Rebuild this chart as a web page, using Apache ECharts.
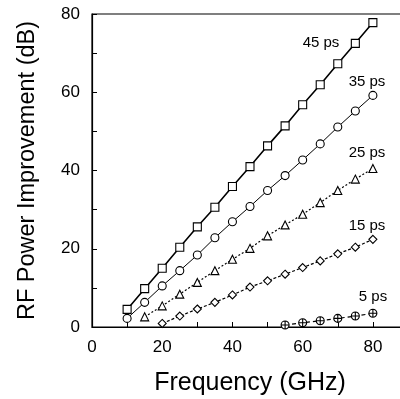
<!DOCTYPE html>
<html><head><meta charset="utf-8">
<script src="https://cdn.jsdelivr.net/npm/echarts@6/dist/echarts.min.js"></script>
<style>html,body{margin:0;padding:0;background:#fff}#c{width:400px;height:399px}</style>
</head><body><div id="c"></div>
<script>
var freq = [10,15,20,25,30,35,40,45,50,55,60,65,70,75,80];
var ps45 = [4.5,9.8,15.0,20.4,25.6,30.6,35.9,41.0,46.3,51.4,56.8,61.9,67.3,72.5,77.8];
var ps35 = [2.2,6.3,10.5,14.4,18.4,22.8,26.9,30.8,34.9,38.7,42.7,46.8,51.1,55.2,59.2];
var freq25 = [15,20,25,30,35,40,45,50,55,60,65,70,75,80];
var ps25 = [2.6,5.4,8.4,11.4,14.4,17.3,20.1,23.3,26.1,28.8,31.8,34.9,37.8,40.5];
var freq15 = [20,25,30,35,40,45,50,55,60,65,70,75,80];
var ps15 = [0.9,2.8,4.6,6.3,8.2,10.2,11.8,13.5,15.2,16.9,18.7,20.4,22.4];
var freq5 = [55,60,65,70,75,80];
var ps5 = [0.5,1.1,1.6,2.2,2.8,3.5];
var xTicks = [0,20,40,60,80];
var yTicks = [0,20,40,60,80];
var seriesNames = ['45 ps','35 ps','25 ps','15 ps','5 ps'];

function pairs(xs, ys){ return xs.map(function(x,i){return [x, ys[i]];}); }
var font = '"Liberation Sans", Arial, sans-serif';
var circlePlus = 'path://M50,2A48,48 0 1,1 49.99,2Z M50,2L50,98 M2,50L98,50';

function mk(name, data, symbol, size, lineType, width){
  return {name:name, type:'line', data:data, symbol:symbol, symbolSize:size,
    showAllSymbol:true, z:3,
    lineStyle:{color:'#000', width:width, type:lineType},
    itemStyle:{color:'#fff', borderColor:'#000', borderWidth:1.1}};
}

var chart = echarts.init(document.getElementById('c'), null, {renderer:'canvas'});
chart.setOption({
  animation:false,
  backgroundColor:'#fff',
  grid:{left:92, top:14, bottom:72, right:-8, containLabel:false, outerBoundsMode:'none',
    show:true, borderColor:'#000', borderWidth:1.2},
  xAxis:{type:'value', min:0, max:90, interval:20,
    name:'Frequency (GHz)', nameLocation:'middle', nameGap:44,
    nameTextStyle:{fontFamily:font, fontSize:25, color:'#000'},
    axisLine:{show:true, lineStyle:{color:'#000', width:1.2}},
    axisTick:{show:true, inside:true, length:5, lineStyle:{color:'#000'}},
    minorTick:{show:true, splitNumber:2, length:5, lineStyle:{color:'#000'}},
    axisLabel:{fontFamily:font, fontSize:17, color:'#000', margin:12, showMaxLabel:false,
      formatter:function(v){return xTicks.indexOf(v)>=0 ? String(v) : '';}},
    splitLine:{show:false}},
  yAxis:{type:'value', min:0, max:80, interval:20,
    name:'RF Power Improvement (dB)', nameLocation:'middle', nameGap:52,
    nameTextStyle:{fontFamily:font, fontSize:23.5, color:'#000'},
    axisLine:{show:true, lineStyle:{color:'#000', width:1.2}},
    axisTick:{show:true, inside:true, length:5, lineStyle:{color:'#000'}},
    minorTick:{show:true, splitNumber:2, length:5, lineStyle:{color:'#000'}},
    axisLabel:{fontFamily:font, fontSize:17, color:'#000', margin:12,
      formatter:function(v){return yTicks.indexOf(v)>=0 ? String(v) : '';}},
    splitLine:{show:false}},
  series:[
    mk(seriesNames[0], pairs(freq, ps45), 'rect', 8, 'solid', 1.6),
    mk(seriesNames[1], pairs(freq, ps35), 'circle', 8, 'solid', 1),
    mk(seriesNames[2], pairs(freq25, ps25), 'triangle', 8, [2,2], 1.2),
    mk(seriesNames[3], pairs(freq15, ps15), 'diamond', 8, [3,2], 1.2),
    mk(seriesNames[4], pairs(freq5, ps5), circlePlus, 8, [4,3], 1.2)
  ],
  graphic:[
    {type:'text', x:321, y:43, style:{text:seriesNames[0], font:'15px '+font, fill:'#000', textAlign:'center', textVerticalAlign:'middle'}},
    {type:'text', x:367, y:82, style:{text:seriesNames[1], font:'15px '+font, fill:'#000', textAlign:'center', textVerticalAlign:'middle'}},
    {type:'text', x:367, y:153, style:{text:seriesNames[2], font:'15px '+font, fill:'#000', textAlign:'center', textVerticalAlign:'middle'}},
    {type:'text', x:367, y:226, style:{text:seriesNames[3], font:'15px '+font, fill:'#000', textAlign:'center', textVerticalAlign:'middle'}},
    {type:'text', x:373, y:297, style:{text:seriesNames[4], font:'15px '+font, fill:'#000', textAlign:'center', textVerticalAlign:'middle'}}
  ]
});
</script></body></html>
